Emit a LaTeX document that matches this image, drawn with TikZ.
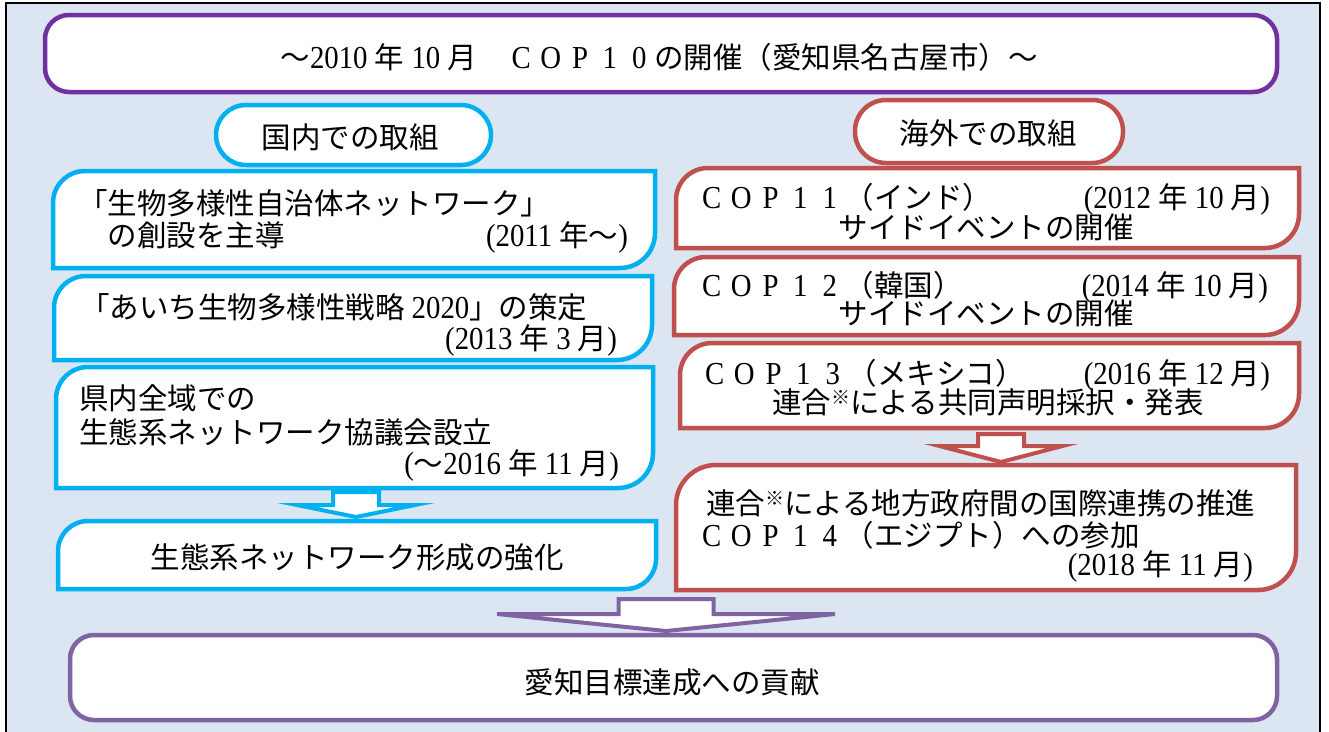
\documentclass[tikz,border=0pt]{standalone}
\usepackage{fontspec}
\setmainfont{Noto Sans CJK JP}
\newfontfamily\latf{Liberation Serif}[FakeStretch=0.9]
\definecolor{cyanC}{HTML}{00B0F0}
\definecolor{redC}{HTML}{C0504D}
\definecolor{purpT}{HTML}{7030A0}
\definecolor{purpB}{HTML}{8064A2}
\definecolor{bgC}{HTML}{DCE6F2}
\newcommand\lat[1]{{\fontsize{32}{34}\selectfont\latf #1}}
\newcommand\fw[1]{\makebox[29.5pt]{\lat{#1}}}
\newcommand\kome{\raisebox{0.3em}{\fontsize{19}{19}\selectfont ※}}
% box with rounded top-left and bottom-right corners
\newcommand\tlbrbox[4]{%
  \draw[#1] ([yshift=-#3]#2.north west) arc[start angle=180,end angle=90,radius=#3]
    -- (#2.north east) -- ([yshift=#4]#2.south east)
    arc[start angle=0,end angle=-90,radius=#4] -- (#2.south west) -- cycle;}
% block arrow: style, cx, ytop, yhead, ytip, shaft half width, head half width
\newcommand\blockarrow[7]{%
  \draw[#1] (#2-#6,-#3) -- (#2+#6,-#3) -- (#2+#6,-#4) -- (#2+#7,-#4) -- (#2,-#5)
    -- (#2-#7,-#4) -- (#2-#6,-#4) -- cycle;}
\begin{document}
\begin{tikzpicture}[x=1pt,y=1pt,
  area/.style={inner sep=0pt,outer sep=0pt},
  txt/.style={inner sep=0pt,outer sep=0pt,font=\fontsize{29.5}{34}\selectfont},
  blueline/.style={draw=cyanC,line width=4.5pt,fill=white},
  redline/.style={draw=redC,line width=4.5pt,fill=white},
  bluearrow/.style={draw=cyanC,line width=4pt,fill=white,line join=miter},
  redarrow/.style={draw=redC,line width=4pt,fill=white,line join=miter},
  purparrow/.style={draw=purpB,line width=4pt,fill=white,line join=miter}]
\path[use as bounding box] (0,0) rectangle (1329,-731);
\fill[white] (0,0) rectangle (1329,-731);
\draw[black,line width=2pt,fill=bgC] (6,-3) rectangle (1320,-745);

% top box
\node[area,draw=purpT,line width=4.5pt,fill=white,rounded corners=24pt,
  minimum width=1232pt,minimum height=77pt] (top) at (661,-53.5) {};
\node[txt,anchor=base] (toptxt) at (659,-68)
  {～\lat{2010 }年\lat{ 10 }月　\fw{C}\fw{O}\fw{P}\fw{1}\fw{0}の開催（愛知県名古屋市）～};

% headers
\node[area,blueline,rounded corners=30pt,minimum width=275pt,minimum height=60pt] (p1) at (353.5,-135) {};
\node[txt,anchor=base] (p1t) at (350,-148) {国内での取組};
\node[area,redline,rounded corners=31pt,minimum width=268pt,minimum height=63pt] (p2) at (989,-131.5) {};
\node[txt,anchor=base] (p2t) at (988,-144) {海外での取組};

% left column
\node[area,minimum width=602pt,minimum height=97pt] (l1) at (354,-219.5) {};
\node[area,minimum width=598pt,minimum height=84pt] (l2) at (353,-318) {};
\node[area,minimum width=597pt,minimum height=121pt] (l3) at (354.5,-427.5) {};
\node[area,minimum width=598pt,minimum height=68pt] (l4) at (357,-555) {};
\tlbrbox{blueline}{l1}{32pt}{35pt}
\tlbrbox{blueline}{l2}{32pt}{35pt}
\tlbrbox{blueline}{l3}{32pt}{35pt}
\tlbrbox{blueline}{l4}{30pt}{30pt}

\node[txt,anchor=base west] (l1a) at (78,-214) {「生物多様性自治体ネットワーク」};
\node[txt,anchor=base west] (l1b) at (78,-246) {　の創設を主導};
\node[txt,anchor=base east] (l1c) at (628,-246) {\lat{(2011 }年～\lat{)}};
\node[txt,anchor=base west] (l2a) at (80,-318) {「あいち生物多様性戦略\lat{ 2020}」の策定};
\node[txt,anchor=base east] (l2b) at (617,-349) {\lat{(2013 }年\lat{ 3 }月\lat{)}};
\node[txt,anchor=base west] (l3a) at (79,-409) {県内全域での};
\node[txt,anchor=base west] (l3b) at (79,-443) {生態系ネットワーク協議会設立};
\node[txt,anchor=base east] (l3c) at (619,-474) {\lat{(}～\lat{2016 }年\lat{ 11 }月\lat{)}};
\node[txt,anchor=base] (l4a) at (357,-568) {生態系ネットワーク形成の強化};

\blockarrow{bluearrow}{356}{492}{505}{517}{23}{59}

% right column
\node[area,minimum width=623pt,minimum height=80pt] (r1) at (987.5,-208) {};
\node[area,minimum width=625pt,minimum height=78pt] (r2) at (986.5,-296) {};
\node[area,minimum width=619pt,minimum height=85pt] (r3) at (989.5,-385.5) {};
\node[area,minimum width=620pt,minimum height=125pt] (r4) at (986,-527.5) {};
\tlbrbox{redline}{r1}{32pt}{34pt}
\tlbrbox{redline}{r2}{32pt}{34pt}
\tlbrbox{redline}{r3}{32pt}{34pt}
\tlbrbox{redline}{r4}{40pt}{38pt}

\node[txt,anchor=base west] (r1a) at (697,-208) {\fw{C}\fw{O}\fw{P}\fw{1}\fw{1}（インド）};
\node[txt,anchor=base east] (r1b) at (1270,-208) {\lat{(2012 }年\lat{ 10 }月\lat{)}};
\node[txt,anchor=base] (r1c) at (986,-238) {サイドイベントの開催};
\node[txt,anchor=base west] (r2a) at (697,-296) {\fw{C}\fw{O}\fw{P}\fw{1}\fw{2}（韓国）};
\node[txt,anchor=base east] (r2b) at (1268,-296) {\lat{(2014 }年\lat{ 10 }月\lat{)}};
\node[txt,anchor=base] (r2c) at (986,-324) {サイドイベントの開催};
\node[txt,anchor=base west] (r3a) at (700,-384) {\fw{C}\fw{O}\fw{P}\fw{1}\fw{3}（メキシコ）};
\node[txt,anchor=base east] (r3b) at (1270,-384) {\lat{(2016 }年\lat{ 12 }月\lat{)}};
\node[txt,anchor=base] (r3c) at (988,-413) {連合\kome による共同声明採択・発表};
\node[txt,anchor=base west] (r4a) at (706,-514) {連合\kome による地方政府間の国際連携の推進};
\node[txt,anchor=base west] (r4b) at (697,-546) {\fw{C}\fw{O}\fw{P}\fw{1}\fw{4}（エジプト）への参加};
\node[txt,anchor=base east] (r4c) at (1253,-575) {\lat{(2018 }年\lat{ 11 }月\lat{)}};

\blockarrow{redarrow}{1001}{434}{446}{462}{23}{61.5}

% bottom
\blockarrow{purparrow}{666}{599}{614}{631}{47.5}{169}
\node[area,draw=purpB,line width=4.5pt,fill=white,rounded corners=24pt,
  minimum width=1207pt,minimum height=85pt] (bot) at (673.5,-677.5) {};
\node[txt,anchor=base] (bott) at (672,-693) {愛知目標達成への貢献};
\end{tikzpicture}
\end{document}
